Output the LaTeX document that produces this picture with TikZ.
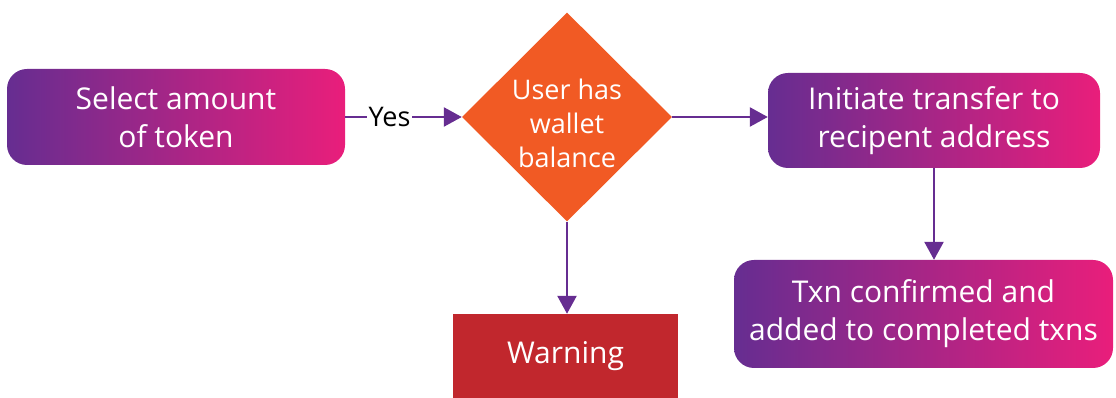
\documentclass[tikz,border=0pt]{standalone}
\usepackage{fontspec}
\setmainfont{Open Sans}
\usetikzlibrary{shapes.geometric,arrows.meta}
\definecolor{flowpurple}{HTML}{662D91}
\definecolor{flowpink}{HTML}{E91E7B}
\definecolor{floworange}{HTML}{F15A24}
\definecolor{flowred}{HTML}{C1272D}
\begin{document}
\begin{tikzpicture}[x=1pt,y=1pt,>={Triangle[length=18pt,width=19pt]}]
\tikzstyle{gbox}=[rectangle,rounded corners=20pt,left color=flowpurple,right color=flowpink,text=white,align=center,font=\fontsize{30}{38}\selectfont,inner sep=0pt]
\tikzstyle{decision}=[diamond,fill=floworange,inner sep=0pt,minimum width=210pt,minimum height=209pt]
\tikzstyle{dtext}=[text=white,align=center,font=\fontsize{27}{34}\selectfont,yshift=-6pt]
\tikzstyle{warn}=[rectangle,fill=flowred,text=white,font=\fontsize{30}{38}\selectfont,inner sep=0pt]
\tikzstyle{flow}=[->,draw=flowpurple,line width=2.5pt]
\useasboundingbox (0,0) rectangle (1116,398);
\node[gbox,minimum width=338pt,minimum height=96pt](A) at (176,281) {Select amount\\of token};
\node[decision,label={[dtext]center:{User has\\wallet\\balance}}](D) at (567,281) {};
\node[gbox,minimum width=332pt,minimum height=95pt](B) at (934,277.5) {Initiate transfer to\\recipent address};
\node[gbox,minimum width=379pt,minimum height=108pt](C) at (923.5,84) {Txn confirmed and\\added to completed txns};
\node[warn,minimum width=225pt,minimum height=84pt](W) at (565.5,42) {Warning};

\draw[flow] (A) -- node[pos=0.38,fill=white,text=black,inner sep=2pt,font=\fontsize{27}{30}\selectfont]{Yes} (D);
\draw[flow] (D.east) -- (D.east -| B.west);
\draw[flow] (D.south) -- (D.south |- W.north);
\draw[flow] (B.south) -- (B.south |- C.north);
\end{tikzpicture}
\end{document}
